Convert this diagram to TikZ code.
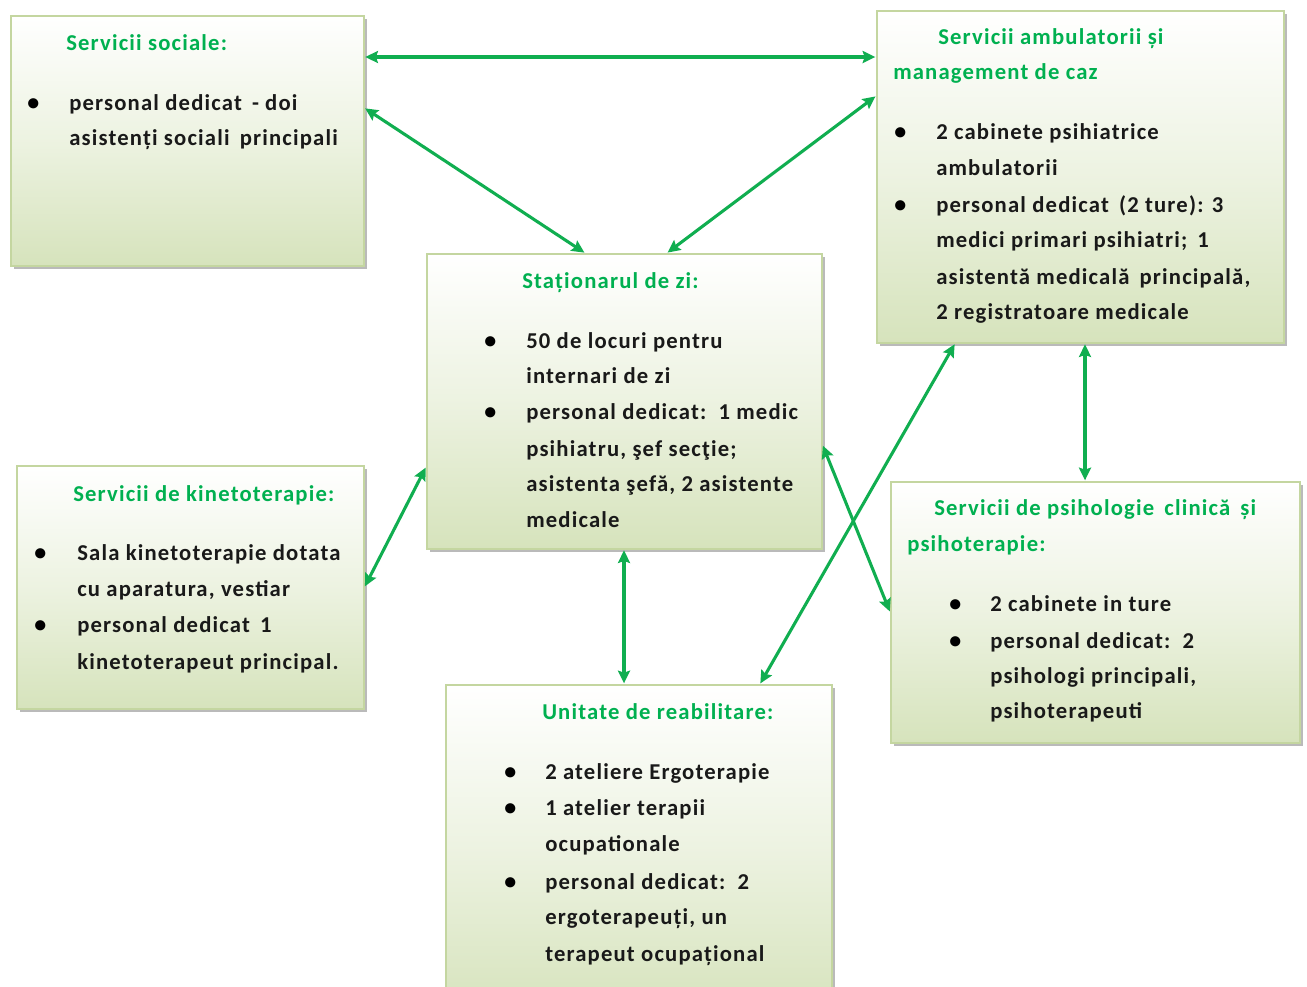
\documentclass[tikz,border=0pt]{standalone}
\usepackage{fontspec}
\setmainfont{Carlito}[LetterSpace=5.2]
\usetikzlibrary{arrows.meta,shadows}
\definecolor{boxfill}{RGB}{214,227,188}
\definecolor{boxline}{RGB}{196,214,160}
\definecolor{ttlgreen}{RGB}{0,176,80}
\definecolor{arrgreen}{RGB}{16,174,80}
\tikzset{
  box/.style={draw=boxline, line width=1.2pt, rectangle, inner sep=0pt,
    top color=white, bottom color=boxfill, middle color=white!55!boxfill,
    drop shadow={shadow xshift=2.5pt, shadow yshift=-2.5pt, fill=black!45, opacity=.6}},
  ttl/.style={anchor=base west, inner sep=0pt, text=ttlgreen, font=\fontsize{17}{27}\selectfont\bfseries},
  txt/.style={anchor=base west, inner sep=0pt, text=black!90, font=\fontsize{17}{27}\selectfont\bfseries},
  bul/.style={anchor=base west, inner sep=0pt, text=black, font=\fontsize{18}{27}\selectfont\bfseries},
  arr/.style={draw=arrgreen, line width=2.3pt, {Stealth[length=9.5pt,width=9pt,inset=1.5pt]}-{Stealth[length=9.5pt,width=9pt,inset=1.5pt]}, shorten <=0.5pt, shorten >=0.5pt}
}
\newcommand\mkbox[5]{\node[box, minimum width=#4*0.75pt, minimum height=#5*0.75pt, anchor=north west] (#1) at (#2,#3) {};}
\begin{document}
\begin{tikzpicture}[x=0.75pt,y=-0.75pt]
\clip (0,0) rectangle (1307,986);
\fill[white] (0,0) rectangle (1307,986);
% boxes
\mkbox{soc}{10}{15}{353}{250}
\mkbox{amb}{876}{10}{407}{332}
\mkbox{sta}{426}{253}{395}{295}
\mkbox{kin}{16}{465}{347}{243}
\mkbox{psi}{890}{481}{409}{261}
\mkbox{rea}{445}{684}{386}{330}
% Servicii sociale
\node[ttl] (soc-t) at (66,50) {Servicii sociale:};
\node[bul] (soc-b1) at (27,110) {\textbullet};
\node[txt] (soc-l1) at (69,110) {personal dedicat\, - doi};
\node[txt] (soc-l2) at (69,145) {asistenți sociali\, principali};
% ambulatorii
\node[ttl] (amb-t1) at (938,44) {Servicii ambulatorii și};
\node[ttl] (amb-t2) at (893,79) {management de caz};
\node[bul] (amb-b1) at (894,139) {\textbullet};
\node[txt] (amb-l1) at (936,139) {2 cabinete psihiatrice};
\node[txt] (amb-l2) at (936,175) {ambulatorii};
\node[bul] (amb-b2) at (894,212) {\textbullet};
\node[txt] (amb-l3) at (936,212) {personal dedicat\, (2 ture): 3};
\node[txt] (amb-l4) at (936,247) {medici primari psihiatri;\, 1};
\node[txt] (amb-l5) at (936,284) {asistentă medicală\, principală,};
\node[txt] (amb-l6) at (936,319) {2 registratoare medicale};
% stationarul
\node[ttl] (sta-t) at (522,288) {Staționarul de zi:};
\node[bul] (sta-b1) at (484,348) {\textbullet};
\node[txt] (sta-l1) at (526,348) {50 de locuri pentru};
\node[txt] (sta-l2) at (526,383) {internari de zi};
\node[bul] (sta-b2) at (484,419) {\textbullet};
\node[txt] (sta-l3) at (526,419) {personal dedicat:\, 1 medic};
\node[txt] (sta-l4) at (526,456) {psihiatru, şef secţie;};
\node[txt] (sta-l5) at (526,491) {asistenta şefă, 2 asistente};
\node[txt] (sta-l6) at (526,527) {medicale};
% kinetoterapie
\node[ttl] (kin-t) at (73,501) {Servicii de kinetoterapie:};
\node[bul] (kin-b1) at (34,560) {\textbullet};
\node[txt] (kin-l1) at (77,560) {Sala kinetoterapie dotata};
\node[txt] (kin-l2) at (77,596) {cu aparatura, vestiar};
\node[bul] (kin-b2) at (34,632) {\textbullet};
\node[txt] (kin-l3) at (77,632) {personal dedicat\, 1};
\node[txt] (kin-l4) at (77,669) {kinetoterapeut principal.};
% psihologie
\node[ttl] (psi-t1) at (934,515) {Servicii de psihologie\, clinică\, și};
\node[ttl] (psi-t2) at (907,551) {psihoterapie:};
\node[bul] (psi-b1) at (949,611) {\textbullet};
\node[txt] (psi-l1) at (990,611) {2 cabinete in ture};
\node[bul] (psi-b2) at (949,648) {\textbullet};
\node[txt] (psi-l2) at (990,648) {personal dedicat:\, 2};
\node[txt] (psi-l3) at (990,683) {psihologi principali,};
\node[txt] (psi-l4) at (990,718) {psihoterapeuti};
% reabilitare
\node[ttl] (rea-t) at (542,719) {Unitate de reabilitare:};
\node[bul] (rea-b1) at (504,779) {\textbullet};
\node[txt] (rea-l1) at (545,779) {2 ateliere Ergoterapie};
\node[bul] (rea-b2) at (504,815) {\textbullet};
\node[txt] (rea-l2) at (545,815) {1 atelier terapii};
\node[txt] (rea-l3) at (545,851) {ocupationale};
\node[bul] (rea-b3) at (504,889) {\textbullet};
\node[txt] (rea-l4) at (545,889) {personal dedicat:\, 2};
\node[txt] (rea-l5) at (545,924) {ergoterapeuți, un};
\node[txt] (rea-l6) at (545,961) {terapeut ocupațional};
% connectors
\draw[arr] (soc.east |- 0,57) -- (amb.west |- 0,57);
\draw[arr] (soc.east |- 0,108) -- (sta.north -| 585,0);
\draw[arr] (amb.west |- 0,96) -- (sta.north -| 667,0);
\draw[arr] (kin.east |- 0,587) -- (sta.west |- 0,467);
\draw[arr] (sta.south -| 624,0) -- (rea.north -| 624,0);
\draw[arr] (sta.east |- 0,445) -- (psi.west |- 0,612);
\draw[arr] (amb.south -| 955,0) -- (rea.north -| 760,0);
\draw[arr] (amb.south -| 1085,0) -- (psi.north -| 1085,0);
\end{tikzpicture}
\end{document}
